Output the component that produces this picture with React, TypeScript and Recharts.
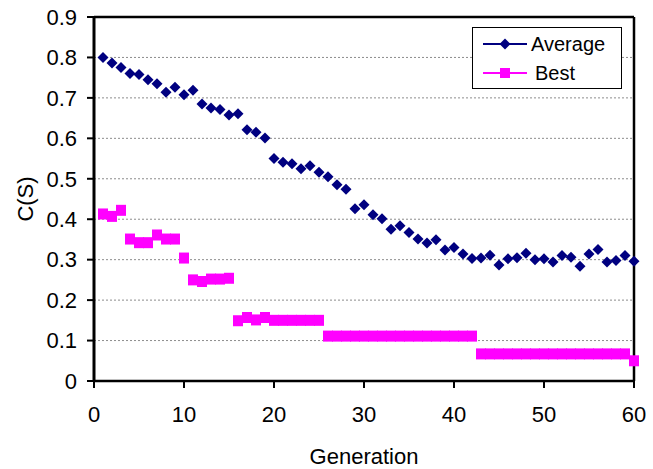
import React from 'react';
import {
  ComposedChart,
  Scatter,
  XAxis,
  YAxis,
  CartesianGrid,
  ReferenceLine,
  Legend,
} from 'recharts';

const generations = [
  1, 2, 3, 4, 5, 6, 7, 8, 9, 10,
  11, 12, 13, 14, 15, 16, 17, 18, 19, 20,
  21, 22, 23, 24, 25, 26, 27, 28, 29, 30,
  31, 32, 33, 34, 35, 36, 37, 38, 39, 40,
  41, 42, 43, 44, 45, 46, 47, 48, 49, 50,
  51, 52, 53, 54, 55, 56, 57, 58, 59, 60,
];

const averageValues = [
  0.800, 0.786, 0.775, 0.760, 0.758, 0.745, 0.735, 0.714, 0.726, 0.708,
  0.719, 0.685, 0.675, 0.671, 0.658, 0.661, 0.621, 0.615, 0.601, 0.550,
  0.541, 0.537, 0.525, 0.532, 0.516, 0.505, 0.485, 0.474, 0.426, 0.436,
  0.411, 0.401, 0.375, 0.384, 0.367, 0.351, 0.341, 0.349, 0.324, 0.330,
  0.314, 0.303, 0.304, 0.311, 0.287, 0.302, 0.305, 0.316, 0.300, 0.302,
  0.294, 0.310, 0.306, 0.284, 0.314, 0.325, 0.294, 0.298, 0.310, 0.296,
];

const bestValues = [
  0.413, 0.407, 0.422, 0.351, 0.342, 0.342, 0.361, 0.351, 0.351, 0.304,
  0.250, 0.246, 0.252, 0.252, 0.254, 0.149, 0.157, 0.151, 0.157, 0.150,
  0.150, 0.150, 0.150, 0.150, 0.150, 0.111, 0.111, 0.111, 0.111, 0.111,
  0.111, 0.111, 0.111, 0.111, 0.111, 0.111, 0.111, 0.111, 0.111, 0.111,
  0.111, 0.111, 0.067, 0.067, 0.067, 0.067, 0.067, 0.067, 0.067, 0.067,
  0.067, 0.067, 0.067, 0.067, 0.067, 0.067, 0.067, 0.067, 0.067, 0.050,
];

const xTicks = [0, 10, 20, 30, 40, 50, 60];
const yTicks = [0, 0.1, 0.2, 0.3, 0.4, 0.5, 0.6, 0.7, 0.8, 0.9];

const seriesNames = ['Average', 'Best'];

const NAVY = '#000080';
const MAGENTA = '#FF00FF';
const FONT = '"Liberation Sans", Arial, sans-serif';

const averageData = generations.map((g, i) => ({ gen: g, value: averageValues[i] }));
const bestData = generations.map((g, i) => ({ gen: g, value: bestValues[i] }));

const Diamond = (props: any) => {
  const { cx, cy } = props;
  if (cx == null || cy == null) return null;
  const r = 5.5;
  return (
    <path
      d={`M${cx},${cy - r}L${cx + r},${cy}L${cx},${cy + r}L${cx - r},${cy}Z`}
      fill={NAVY}
    />
  );
};

const Square = (props: any) => {
  const { cx, cy } = props;
  if (cx == null || cy == null) return null;
  return <rect x={cx - 5} y={cy - 5.5} width={10} height={11} fill={MAGENTA} />;
};

const LegendBox = () => (
  <div
    style={{
      position: 'relative',
      width: 150,
      height: 62,
      boxSizing: 'border-box',
      border: '1.5px solid #000',
      background: '#fff',
      fontFamily: FONT,
      fontSize: 20,
      color: '#000',
    }}
  >
    <svg width={50} height={60} style={{ position: 'absolute', left: 8, top: 0 }}>
      <line x1={2} y1={16} x2={46} y2={16} stroke={NAVY} strokeWidth={2} />
      <path d="M24,10.5L29.5,16L24,21.5L18.5,16Z" fill={NAVY} />
      <line x1={2} y1={45} x2={46} y2={45} stroke={MAGENTA} strokeWidth={2} />
      <rect x={19} y={40} width={10} height={10} fill={MAGENTA} />
    </svg>
    <span style={{ position: 'absolute', left: 58, top: 4, lineHeight: '24px' }}>
      {seriesNames[0]}
    </span>
    <span style={{ position: 'absolute', left: 62, top: 33, lineHeight: '24px' }}>
      {seriesNames[1]}
    </span>
  </div>
);

const YLabel = (props: any) => {
  const vb = props.viewBox || {};
  const x = 25;
  const y = (vb.y || 0) + (vb.height || 0) / 2;
  return (
    <text
      x={x}
      y={y}
      transform={`rotate(-90 ${x} ${y})`}
      textAnchor="middle"
      dominantBaseline="central"
      fontFamily={FONT}
      fontSize={22}
      fill="#000"
    >
      C(S)
    </text>
  );
};

const XLabel = (props: any) => {
  const vb = props.viewBox || {};
  const x = (vb.x || 0) + (vb.width || 0) / 2;
  const y = (vb.y || 0) + (vb.height || 0) - 5;
  return (
    <text x={x} y={y} textAnchor="middle" fontFamily={FONT} fontSize={22} fill="#000">
      Generation
    </text>
  );
};

export default function App() {
  return (
    <div style={{ position: 'absolute', left: 0, top: 0, background: '#fff' }}>
      <ComposedChart
        width={653}
        height={469}
        margin={{ top: 17, right: 19, bottom: 0, left: 0 }}
        style={{ fontFamily: FONT }}
      >
        <CartesianGrid
          horizontal={true}
          vertical={false}
          stroke="#8c8c8c"
          strokeDasharray="2 2"
        />
        <XAxis
          type="number"
          dataKey="gen"
          domain={[0, 60]}
          ticks={xTicks}
          interval={0}
          height={88}
          tickSize={7}
          tickMargin={18}
          axisLine={{ stroke: '#000', strokeWidth: 2.5 }}
          tickLine={{ stroke: '#000', strokeWidth: 2 }}
          tick={{ fill: '#000', fontSize: 22, fontFamily: FONT }}
          label={{ content: XLabel }}
        />
        <YAxis
          type="number"
          dataKey="value"
          domain={[0, 0.9]}
          ticks={yTicks}
          interval={0}
          width={94}
          tickSize={7}
          tickMargin={10}
          tickFormatter={(v: number) => (v === 0 ? '0' : v.toFixed(1))}
          axisLine={{ stroke: '#000', strokeWidth: 3 }}
          tickLine={{ stroke: '#000', strokeWidth: 2 }}
          tick={{ fill: '#000', fontSize: 22, fontFamily: FONT }}
          label={{ content: YLabel }}
        />
        <ReferenceLine y={0.9} stroke="#000" strokeWidth={2.5} ifOverflow="visible" />
        <ReferenceLine x={60} stroke="#000" strokeWidth={2.5} ifOverflow="visible" />
        <Scatter
          name={seriesNames[1]}
          data={bestData}
          dataKey="value"
          shape={Square}
          isAnimationActive={false}
        />
        <Scatter
          name={seriesNames[0]}
          data={averageData}
          dataKey="value"
          shape={Diamond}
          isAnimationActive={false}
        />
        <Legend
          layout="vertical"
          align="center"
          verticalAlign="middle"
          content={LegendBox}
          wrapperStyle={{ left: 472, top: 27, width: 150, height: 62 }}
        />
      </ComposedChart>
    </div>
  );
}
